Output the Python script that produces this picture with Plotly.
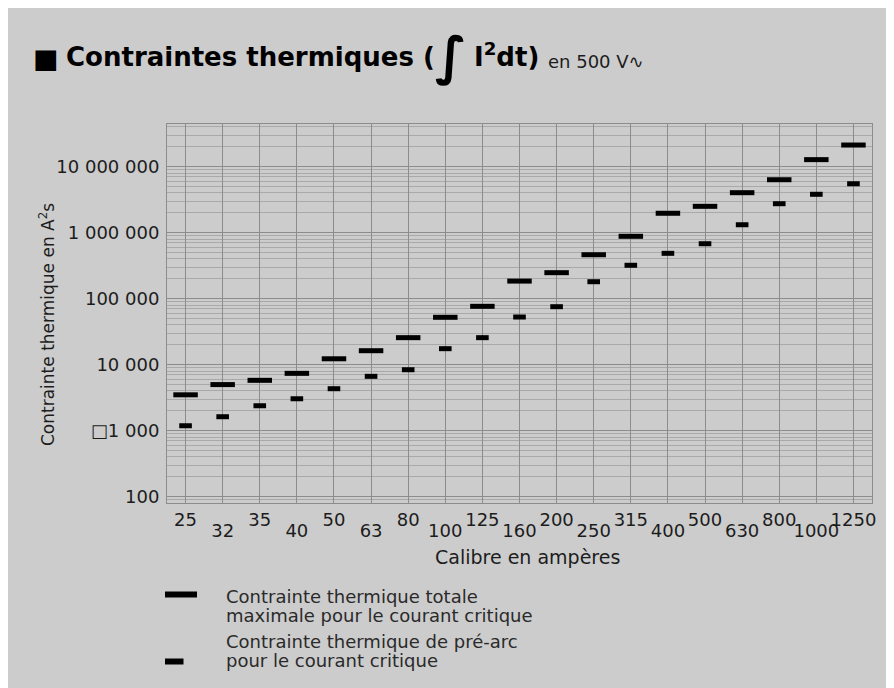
import plotly.graph_objects as go

# ---------------- data ----------------
calibres = ["25", "32", "35", "40", "50", "63", "80", "100", "125", "160",
            "200", "250", "315", "400", "500", "630", "800", "1000", "1250"]
total_max = [3500, 5000, 5800, 7400, 12300, 16300, 25700, 52300, 76700, 185000,
             248000, 464000, 882000, 1970000, 2510000, 4040000, 6350000,
             12800000, 21300000]
pre_arc = [1190, 1630, 2390, 3050, 4330, 6670, 8400, 17500, 25700, 52800,
           75700, 181000, 321000, 487000, 681000, 1320000, 2750000,
           3820000, 5520000]
y_tick_vals = [100, 1000, 10000, 100000, 1000000, 10000000]
y_tick_text = ["100", "\u25a11 000", "10 000", "100 000", "1 000 000", "10 000 000"]

# ---------------- geometry (figure coords; page adds 8px body margin) ----------------
OFF = 8
W, H = 894, 688
L, T = 167 - OFF, 124 - OFF
R = W - (872 - OFF)
B = H - (503 - OFF)
PW, PH = W - L - R, H - T - B
FONT = "DejaVu Sans"
TXT = "#1c1c1c"
BG = "#cccccc"
GRID = "#8c8c8c"
MINOR = "#a9a9a9"


def px(x):  # screen x -> paper
    return (x - OFF - L) / PW


def py(y):  # screen y -> paper
    return (H - B - (y - OFF)) / PH


def segments(values, half):
    xs, ys = [], []
    for i, v in enumerate(values):
        xs += [i - half, i + half, None]
        ys += [v, v, None]
    return xs, ys


idx = list(range(len(calibres)))
even = [i for i in idx if i % 2 == 0]
odd = [i for i in idx if i % 2 == 1]
fig = go.Figure()

xs, ys = segments(total_max, 0.33)
fig.add_trace(go.Scatter(x=xs, y=ys, mode="lines",
                         line=dict(color="black", width=5),
                         name="Contrainte thermique totale", showlegend=False,
                         hoverinfo="skip"))
xs, ys = segments(pre_arc, 0.17)
fig.add_trace(go.Scatter(x=xs, y=ys, mode="lines",
                         line=dict(color="black", width=5),
                         name="Contrainte thermique de pré-arc", showlegend=False,
                         hoverinfo="skip"))
# invisible trace to carry the second (odd labels) x axis
fig.add_trace(go.Scatter(x=[0], y=[1000], xaxis="x2", mode="markers",
                         marker=dict(opacity=0), showlegend=False, hoverinfo="skip"))

minor_vals = [k * 10 ** d for d in range(1, 8) for k in range(2, 10)]

fig.update_layout(
    width=W, height=H,
    margin=dict(l=L, r=R, t=T, b=B, pad=0),
    paper_bgcolor=BG, plot_bgcolor=BG,
    font=dict(family=FONT, color=TXT, size=18),
    showlegend=False,
    xaxis=dict(
        range=[-0.5, 18.5],
        tickmode="array", tickvals=even,
        ticktext=[calibres[i] for i in even],
        showgrid=True, gridcolor=GRID, gridwidth=1,
        showline=True, linecolor=GRID, linewidth=1, mirror=True,
        ticks="", ticklabelstandoff=0,
        tickfont=dict(family=FONT, size=18, color=TXT),
        zeroline=False,
    ),
    xaxis2=dict(
        range=[-0.5, 18.5], overlaying="x", matches="x", side="bottom",
        tickmode="array", tickvals=odd,
        ticktext=[calibres[i] for i in odd],
        showgrid=True, gridcolor=GRID, gridwidth=1,
        showline=False, ticks="", ticklabelstandoff=15,
        tickfont=dict(family=FONT, size=18, color=TXT),
        zeroline=False,
    ),
    yaxis=dict(
        type="log", range=[1.905, 7.647],
        tickmode="array", tickvals=y_tick_vals, ticktext=y_tick_text,
        showgrid=True, gridcolor=GRID, gridwidth=1,
        minor=dict(tickmode="array", tickvals=minor_vals, showgrid=True,
                   gridcolor=MINOR, gridwidth=1, ticks=""),
        showline=True, linecolor=GRID, linewidth=1, mirror=True,
        ticks="", ticklabelstandoff=3,
        tickfont=dict(family=FONT, size=18, color=TXT),
        zeroline=False,
    ),
)

ann = []
# title pieces
ann.append(dict(text="\u25a0", x=px(31), y=py(58), xanchor="left", yanchor="middle",
                font=dict(family=FONT, size=27, color="black")))
ann.append(dict(text="<b>Contraintes thermiques (</b>", x=px(64), y=py(57),
                xanchor="left", yanchor="middle",
                font=dict(family=FONT, size=26, color="black")))
ann.append(dict(text="<b>\u222b</b>", x=px(433), y=py(56), xanchor="left", yanchor="middle",
                font=dict(family=FONT, size=52, color="black")))
ann.append(dict(text="<b>I<sup>2</sup>dt)</b>", x=px(472), y=py(55),
                xanchor="left", yanchor="middle",
                font=dict(family=FONT, size=26, color="black")))
ann.append(dict(text="en 500 V\u223f", x=px(546), y=py(62), xanchor="left", yanchor="middle",
                font=dict(family=FONT, size=18, color=TXT)))
# axis titles
ann.append(dict(text="Contrainte thermique en A<sup>2</sup>s", x=px(47), y=py(325),
                textangle=-90, xanchor="center", yanchor="middle",
                font=dict(family=FONT, size=17, color=TXT)))
ann.append(dict(text="Calibre en ampères", x=px(527), y=py(557),
                xanchor="center", yanchor="middle",
                font=dict(family=FONT, size=19, color=TXT)))
# legend texts
for txt, yy in [("Contrainte thermique totale", 596.5),
                ("maximale pour le courant critique", 615),
                ("Contrainte thermique de pré-arc", 641.5),
                ("pour le courant critique", 660)]:
    ann.append(dict(text=txt, x=px(224), y=py(yy), xanchor="left", yanchor="middle",
                    font=dict(family=FONT, size=18, color="#2a2a2a")))
for a in ann:
    a.update(xref="paper", yref="paper", showarrow=False)
fig.update_layout(annotations=ann)

# legend keys
fig.add_shape(type="rect", xref="paper", yref="paper",
              x0=px(165), x1=px(197), y0=py(597.5), y1=py(591.5),
              fillcolor="black", line=dict(width=0))
fig.add_shape(type="rect", xref="paper", yref="paper",
              x0=px(165), x1=px(183.5), y0=py(664.5), y1=py(658.5),
              fillcolor="black", line=dict(width=0))

fig.write_html("out.html")
